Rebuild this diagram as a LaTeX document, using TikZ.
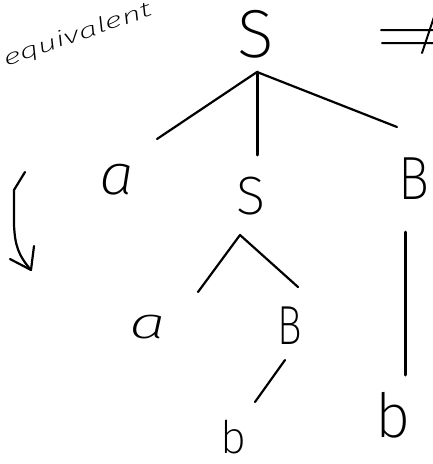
\documentclass[tikz,border=0pt]{standalone}
\usepackage{fontspec}
\IfFontExistsTF{Fira Sans ExtraLight}{\setmainfont{Fira Sans ExtraLight}}{\setmainfont{Fira Sans}}
\usepackage{graphicx}
\begin{document}
\begin{tikzpicture}[x=1pt,y=-1pt,
  sym/.style={inner sep=0pt,outer sep=0pt,anchor=center,text=black},
  stroke/.style={line width=2.2pt,line cap=round,line join=round,draw=black}]
\useasboundingbox (0,0) rectangle (433,464);
% title text
\node[sym,anchor=base west,rotate=19] (title) at (6,66)
  {\scalebox{1.6}[1]{\fontsize{21}{24}\selectfont\itshape equivalent}};
% implies sign (cut off at right edge)
\coordinate (i1) at (381,30); \coordinate (i2) at (440,30);
\coordinate (i3) at (382,43); \coordinate (i4) at (440,43);
\coordinate (i5) at (437,8);  \coordinate (i6) at (422,53);
\draw[stroke,line width=2pt] (i1) -- (i2) (i3) -- (i4) (i5) -- (i6);
% symbols
\node[sym] (S0) at (256,34) {\fontsize{68}{70}\selectfont S};
\node[sym] (a1) at (117,180) {\scalebox{1.1}[1]{\fontsize{57}{60}\selectfont\itshape a}};
\node[sym] (S1) at (251,196) {\fontsize{54}{56}\selectfont S};
\node[sym] (B1) at (414,179) {\scalebox{0.85}[1]{\fontsize{61}{63}\selectfont B}};
\node[sym] (a2) at (148,327) {\scalebox{1.5}[1]{\fontsize{44}{46}\selectfont\itshape a}};
\node[sym] (B2) at (290,326) {\scalebox{0.75}[1]{\fontsize{55}{57}\selectfont B}};
\node[sym] (b1) at (393,415) {\fontsize{61}{63}\selectfont b};
\node[sym] (b2) at (233,437) {\fontsize{45}{47}\selectfont b};
% connector end points
\coordinate (j0) at (257,72);
\coordinate (ea1) at (157,139);
\coordinate (eS1) at (257,155);
\coordinate (eB1) at (397,127);
\coordinate (j1) at (240,235);
\coordinate (ea2) at (198,292);
\coordinate (eB2) at (298,287);
\coordinate (tB2) at (285,360);
\coordinate (eb2) at (255,402);
\coordinate (tB1) at (405,232);
\coordinate (eb1) at (405,375);
\draw[stroke] (j0) -- (ea1);
\draw[stroke,line width=3pt] (j0) -- (eS1);
\draw[stroke] (j0) -- (eB1);
\draw[stroke] (ea2) -- (j1) -- (eB2);
\draw[stroke] (tB2) -- (eb2);
\draw[stroke,line width=3pt] (tB1) -- (eb1);
% derivation arrow at left
\coordinate (d0) at (25,172);
\coordinate (d1) at (31,270);
\draw[stroke] (d0) -- (14,190) -- (14,225) .. controls (15,245) and (18,255) .. (d1);
\draw[stroke] (10,259) -- (d1) -- (34,246);
\end{tikzpicture}
\end{document}
